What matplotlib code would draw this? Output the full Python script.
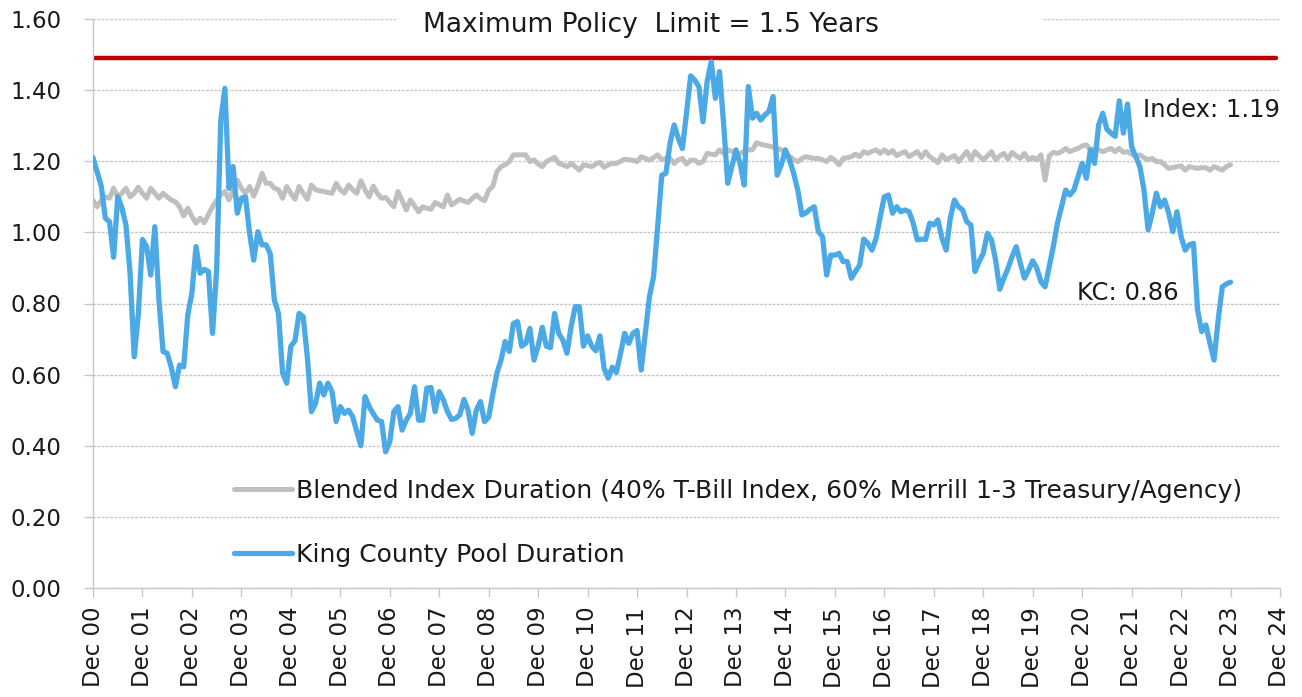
"""King County pool duration vs blended index duration, Dec 2000 - Dec 2023."""

import matplotlib

matplotlib.use("Agg")
import matplotlib.pyplot as plt
from matplotlib.patches import Rectangle

# ----------------------------------------------------------------------
# Data (monthly, starting Dec 2000; one row per 12 months)
# ----------------------------------------------------------------------
KC_DURATION = [
    1.21, 1.17, 1.13, 1.04, 1.03, 0.93, 1.10, 1.07, 1.02, 0.885, 0.65, 0.77,
    0.98, 0.96, 0.88, 1.016, 0.81, 0.665, 0.66, 0.62, 0.566, 0.627, 0.622, 0.768,
    0.83, 0.96, 0.885, 0.896, 0.89, 0.716, 0.894, 1.316, 1.405, 1.124, 1.185, 1.054,
    1.096, 1.10, 0.997, 0.922, 1.002, 0.965, 0.965, 0.94, 0.81, 0.772, 0.604, 0.576,
    0.68, 0.695, 0.772, 0.763, 0.65, 0.496, 0.519, 0.576, 0.543, 0.576, 0.552, 0.468,
    0.51, 0.491, 0.50, 0.482, 0.44, 0.40, 0.538, 0.51, 0.49, 0.472, 0.468, 0.383,
    0.411, 0.496, 0.51, 0.444, 0.472, 0.491, 0.566, 0.472, 0.472, 0.562, 0.564, 0.496,
    0.552, 0.529, 0.496, 0.474, 0.477, 0.487, 0.53, 0.50, 0.435, 0.50, 0.524, 0.468,
    0.48, 0.545, 0.604, 0.641, 0.693, 0.665, 0.744, 0.749, 0.68, 0.688, 0.73, 0.641,
    0.68, 0.733, 0.68, 0.676, 0.772, 0.716, 0.697, 0.66, 0.735, 0.791, 0.791, 0.68,
    0.709, 0.68, 0.667, 0.709, 0.618, 0.59, 0.621, 0.606, 0.66, 0.716, 0.688, 0.716,
    0.724, 0.613, 0.716, 0.819, 0.875, 1.016, 1.161, 1.166, 1.25, 1.302, 1.265, 1.236,
    1.335, 1.44, 1.428, 1.41, 1.311, 1.424, 1.48, 1.377, 1.452, 1.307, 1.138, 1.185,
    1.232, 1.194, 1.133, 1.41, 1.321, 1.335, 1.316, 1.33, 1.34, 1.382, 1.161, 1.19,
    1.232, 1.204, 1.166, 1.119, 1.049, 1.055, 1.065, 1.072, 1.002, 0.988, 0.88, 0.936,
    0.936, 0.941, 0.918, 0.918, 0.871, 0.89, 0.908, 0.981, 0.969, 0.95, 0.983, 1.044,
    1.10, 1.105, 1.054, 1.072, 1.058, 1.063, 1.058, 1.026, 0.979, 0.981, 0.98, 1.026,
    1.021, 1.035, 0.983, 0.95, 1.04, 1.091, 1.072, 1.063, 1.03, 1.021, 0.89, 0.918,
    0.941, 0.997, 0.979, 0.922, 0.84, 0.871, 0.899, 0.932, 0.96, 0.913, 0.871, 0.894,
    0.92, 0.899, 0.861, 0.847, 0.904, 0.96, 1.026, 1.072, 1.119, 1.105, 1.119, 1.157,
    1.194, 1.152, 1.232, 1.194, 1.302, 1.335, 1.29, 1.279, 1.27, 1.37, 1.279, 1.361,
    1.241, 1.213, 1.185, 1.119, 1.007, 1.054, 1.11, 1.072, 1.091, 1.054, 1.002, 1.058,
    0.988, 0.95, 0.965, 0.969, 0.782, 0.721, 0.74, 0.688, 0.641, 0.754, 0.847, 0.855,
    0.86,
]

INDEX_DURATION = [
    1.09, 1.072, 1.09, 1.10, 1.096, 1.124, 1.10, 1.11, 1.124, 1.10, 1.11, 1.127,
    1.11, 1.096, 1.124, 1.11, 1.096, 1.11, 1.10, 1.091, 1.086, 1.072, 1.046, 1.068,
    1.045, 1.026, 1.04, 1.027, 1.05, 1.072, 1.09, 1.105, 1.115, 1.091, 1.12, 1.147,
    1.124, 1.11, 1.129, 1.102, 1.13, 1.166, 1.138, 1.138, 1.124, 1.12, 1.096, 1.129,
    1.11, 1.093, 1.129, 1.11, 1.093, 1.133, 1.12, 1.117, 1.115, 1.112, 1.11, 1.138,
    1.12, 1.11, 1.133, 1.12, 1.11, 1.145, 1.12, 1.10, 1.13, 1.11, 1.096, 1.098,
    1.085, 1.072, 1.115, 1.09, 1.063, 1.091, 1.075, 1.058, 1.072, 1.068, 1.065, 1.084,
    1.078, 1.072, 1.105, 1.077, 1.085, 1.093, 1.088, 1.084, 1.095, 1.105, 1.095, 1.089,
    1.119, 1.129, 1.171, 1.185, 1.19, 1.199, 1.218, 1.218, 1.218, 1.218, 1.199, 1.204,
    1.192, 1.185, 1.199, 1.205, 1.211, 1.194, 1.19, 1.185, 1.194, 1.185, 1.175, 1.19,
    1.188, 1.185, 1.192, 1.197, 1.183, 1.19, 1.194, 1.194, 1.20, 1.206, 1.204, 1.203,
    1.199, 1.213, 1.208, 1.203, 1.21, 1.218, 1.204, 1.208, 1.208, 1.194, 1.204, 1.208,
    1.192, 1.203, 1.203, 1.194, 1.199, 1.222, 1.22, 1.218, 1.232, 1.222, 1.232, 1.228,
    1.222, 1.222, 1.228, 1.232, 1.232, 1.252, 1.248, 1.245, 1.243, 1.24, 1.236, 1.232,
    1.222, 1.213, 1.205, 1.199, 1.208, 1.213, 1.21, 1.208, 1.208, 1.204, 1.199, 1.211,
    1.203, 1.19, 1.208, 1.21, 1.213, 1.22, 1.213, 1.227, 1.222, 1.228, 1.232, 1.222,
    1.232, 1.222, 1.23, 1.216, 1.222, 1.227, 1.213, 1.22, 1.227, 1.211, 1.227, 1.213,
    1.205, 1.196, 1.218, 1.204, 1.21, 1.216, 1.199, 1.213, 1.227, 1.204, 1.227, 1.215,
    1.204, 1.215, 1.227, 1.204, 1.215, 1.222, 1.206, 1.225, 1.215, 1.208, 1.222, 1.204,
    1.211, 1.204, 1.218, 1.147, 1.215, 1.225, 1.222, 1.227, 1.236, 1.227, 1.232, 1.236,
    1.243, 1.246, 1.232, 1.236, 1.232, 1.227, 1.232, 1.236, 1.227, 1.236, 1.225, 1.227,
    1.22, 1.213, 1.218, 1.21, 1.204, 1.208, 1.199, 1.199, 1.19, 1.18, 1.182, 1.185,
    1.187, 1.175, 1.185, 1.182, 1.18, 1.182, 1.182, 1.175, 1.185, 1.18, 1.175, 1.185,
    1.19,
]

POLICY_LIMIT = 1.49          # drawn value of the 1.5-year policy line
POLICY_MONTHS = 288          # line runs Dec 00 .. Nov 24
TICK_YEARS = list(range(0, 25))
TICK_LABELS = [f"Dec {y:02d}" for y in TICK_YEARS]
Y_TICKS = [0.0, 0.2, 0.4, 0.6, 0.8, 1.0, 1.2, 1.4, 1.6]

LABEL_INDEX = "Blended Index Duration (40% T-Bill Index, 60% Merrill 1-3 Treasury/Agency)"
LABEL_KC = "King County Pool Duration"
TITLE = "Maximum Policy  Limit = 1.5 Years"

BLUE = "#4BA9E6"
GREY = "#BFBFBF"
RED = "#C00000"
GRID = "#C8C8C8"
TEXT = "#1A1A1A"

plt.rcParams["font.family"] = "DejaVu Sans"

W, H = 1302, 697
fig = plt.figure(figsize=(W / 100, H / 100), dpi=100)
ax = fig.add_axes([93 / W, (H - 588) / H, 1187 / W, 569 / H])

months = list(range(len(KC_DURATION)))

ax.plot(range(POLICY_MONTHS), [POLICY_LIMIT] * POLICY_MONTHS, color=RED,
        linewidth=3.2, solid_capstyle="round", zorder=2)
ax.plot(months, INDEX_DURATION, color=GREY, linewidth=3.6,
        solid_joinstyle="round", solid_capstyle="round", label=LABEL_INDEX, zorder=3)
ax.plot(months, KC_DURATION, color=BLUE, linewidth=3.8,
        solid_joinstyle="round", solid_capstyle="round", label=LABEL_KC, zorder=4)

ax.set_xlim(0, 288)
ax.set_ylim(0, 1.6)
ax.set_xticks([12 * y for y in TICK_YEARS])
ax.set_xticklabels(TICK_LABELS, rotation=90, va="top", ha="center",
                   fontsize=16.5, color=TEXT)
ax.set_yticks(Y_TICKS)
ax.set_yticklabels([f"{v:.2f}" for v in Y_TICKS], fontsize=16.5, color=TEXT)
ax.tick_params(axis="both", direction="out", length=6.5, width=1, color=GRID)
ax.tick_params(axis="y", pad=16)
ax.tick_params(axis="x", pad=7)

ax.grid(True, axis="y", color=GRID, linestyle=(0, (2, 1)), linewidth=1)
ax.set_axisbelow(True)
for side in ("top", "right"):
    ax.spines[side].set_visible(False)
for side in ("left", "bottom"):
    ax.spines[side].set_color(GRID)
    ax.spines[side].set_linestyle((0, (2, 1)))
    ax.spines[side].set_linewidth(1)

# white box behind the title breaks the top gridline
ax.add_patch(Rectangle((73.6, 1.54), 156.8, 0.12, facecolor="white",
                       edgecolor="none", clip_on=False, zorder=1.5))
ax.text(135.4, 1.564, TITLE, ha="center", va="baseline", fontsize=19,
        color=TEXT, zorder=5)

ax.text(254.7, 1.325, f"Index: {INDEX_DURATION[-1]:.2f}", ha="left",
        va="baseline", fontsize=17.5, color=TEXT, zorder=5)
ax.text(238.7, 0.81, f"KC: {KC_DURATION[-1]:.2f}", ha="left",
        va="baseline", fontsize=17.5, color=TEXT, zorder=5)

ax.legend(loc="center left", bbox_to_anchor=(234 / W, 1 - 523 / H),
          bbox_transform=fig.transFigure, frameon=False, fontsize=18,
          handlelength=2.3, handletextpad=0.2, labelspacing=1.6,
          borderpad=0, borderaxespad=0, labelcolor=TEXT)

fig.savefig("out.png", dpi=100, facecolor="white")
